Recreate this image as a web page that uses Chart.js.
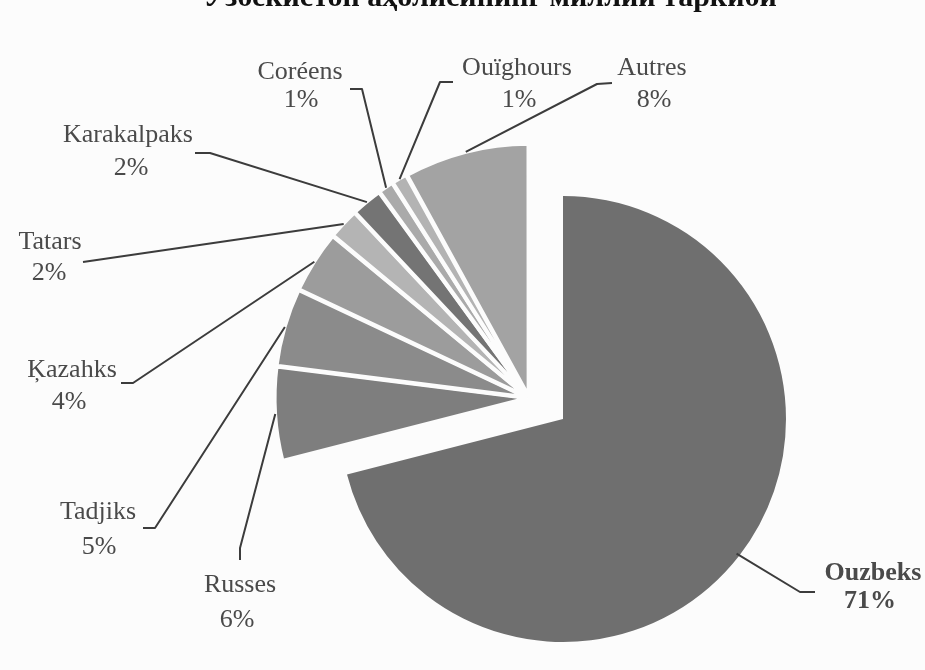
<!DOCTYPE html>
<html>
<head>
<meta charset="utf-8">
<script src="https://cdn.jsdelivr.net/npm/chart.js@4.4.1/dist/chart.umd.min.js"></script>
<style>
  html, body { margin: 0; padding: 0; background: #fcfcfc; }
  #wrap { position: relative; width: 925px; height: 670px; overflow: hidden; background: #fcfcfc; }
  #wrap canvas { position: absolute; left: 0; top: 0; }
</style>
</head>
<body>
<div id="wrap">
  <canvas id="mainPie" width="925" height="670"></canvas>
  <canvas id="groupPie" width="925" height="670"></canvas>
</div>
<script>
// ---- data ----
const titleText = "Ўзбекистон аҳолисининг миллий таркиби";
const categories = ["Ouzbeks", "Russes", "Tadjiks", "Ķazahks", "Tatars", "Karakalpaks", "Coréens", "Ouïghours", "Autres"];
const shares = [71, 6, 5, 4, 2, 2, 1, 1, 8];
const percentLabels = ["71%", "6%", "5%", "4%", "2%", "2%", "1%", "1%", "8%"];

// ---- styling ----
const bg = "#fcfcfc";
const sliceColors = ["#6f6f6f", "#7e7e7e", "#8b8b8b", "#9c9c9c", "#b4b4b4", "#747474", "#aaaaaa", "#b3b3b3", "#a3a3a3"];
const labelFont = '26px "Liberation Serif", "Times New Roman", serif';
const labelFontBold = 'bold 26px "Liberation Serif", "Times New Roman", serif';
const textColor = "#4a4a4a";
const lineColor = "#3c3c3c";

// label layout: text centres and leader-line polyline (from slice edge outward)
const labelLayout = [
  { name: [873, 573], pct: [870, 601], path: [[800, 592], [815, 592]], bold: true },
  { name: [240, 585], pct: [237, 620], path: [[240, 548], [240, 560]] },
  { name: [98, 512],  pct: [99, 547],  path: [[155, 528], [143, 528]] },
  { name: [72, 370],  pct: [69, 402],  path: [[133, 383], [121, 383]] },
  { name: [50, 242],  pct: [49, 273],  path: [[83, 262]] },
  { name: [128, 135], pct: [131, 168], path: [[210, 153], [195, 153]] },
  { name: [300, 72],  pct: [301, 100], path: [[362, 89], [350, 89]] },
  { name: [517, 68],  pct: [519, 100], path: [[440, 82], [453, 82]] },
  { name: [652, 68],  pct: [654, 100], path: [[597, 84], [612, 83]] }
];

const labelPlugin = {
  id: "sliceLabels",
  afterDatasetsDraw(chart, args, opts) {
    const ctx = chart.ctx;
    const meta = chart.getDatasetMeta(0);
    ctx.save();
    opts.indices.forEach(i => {
      const arc = meta.data[i];
      const p = arc.getProps(["x", "y", "startAngle", "endAngle", "outerRadius"], true);
      const off = (arc.options && arc.options.offset) || 0;
      const mid = (p.startAngle + p.endAngle) / 2;
      const r = p.outerRadius * 0.985 + off;
      const ax = p.x + Math.cos(mid) * r;
      const ay = p.y + Math.sin(mid) * r;
      const L = labelLayout[i];
      ctx.strokeStyle = lineColor;
      ctx.lineWidth = 2;
      ctx.lineJoin = "round";
      ctx.beginPath();
      ctx.moveTo(ax, ay);
      L.path.forEach(pt => ctx.lineTo(pt[0], pt[1]));
      ctx.stroke();
      ctx.fillStyle = textColor;
      ctx.textAlign = "center";
      ctx.textBaseline = "middle";
      ctx.font = L.bold ? labelFontBold : labelFont;
      ctx.fillText(categories[i], L.name[0], L.name[1]);
      ctx.fillText(percentLabels[i], L.pct[0], L.pct[1]);
    });
    ctx.restore();
  }
};

const titlePlugin = {
  id: "cutTitle",
  afterDraw(chart) {
    const ctx = chart.ctx;
    ctx.save();
    ctx.fillStyle = "#111";
    ctx.font = 'bold 30px "Liberation Serif", "Times New Roman", serif';
    ctx.textAlign = "center";
    ctx.textBaseline = "alphabetic";
    ctx.fillText(titleText, 490, 6);
    ctx.restore();
  }
};

function baseOptions(padding, radius, indices) {
  return {
    responsive: false,
    animation: false,
    events: [],
    radius: radius,
    rotation: 0,
    layout: { padding: padding },
    plugins: {
      legend: { display: false },
      tooltip: { enabled: false },
      title: { display: false },
      sliceLabels: { indices: indices }
    }
  };
}

// main slice (Ouzbeks)
new Chart(document.getElementById("mainPie"), {
  type: "pie",
  data: {
    labels: categories,
    datasets: [{
      data: shares,
      backgroundColor: sliceColors.map((c, i) => i === 0 ? c : "rgba(0,0,0,0)"),
      borderWidth: 0
    }]
  },
  options: baseOptions({ left: 340, right: 139, top: 196, bottom: 28 }, 223, [0]),
  plugins: [titlePlugin, labelPlugin]
});

// exploded group of the small slices
new Chart(document.getElementById("groupPie"), {
  type: "pie",
  data: {
    labels: categories,
    datasets: [{
      data: shares,
      backgroundColor: sliceColors.map((c, i) => i === 0 ? "rgba(0,0,0,0)" : c),
      borderColor: bg,
      borderWidth: shares.map((v, i) => i === 0 ? 0 : 4),
      offset: shares.map((v, i) => i === 0 ? 0 : 6)
    }]
  },
  options: baseOptions({ left: 251, right: 118, top: 130, bottom: 4 }, 252, [1, 2, 3, 4, 5, 6, 7, 8]),
  plugins: [labelPlugin]
});
</script>
</body>
</html>
